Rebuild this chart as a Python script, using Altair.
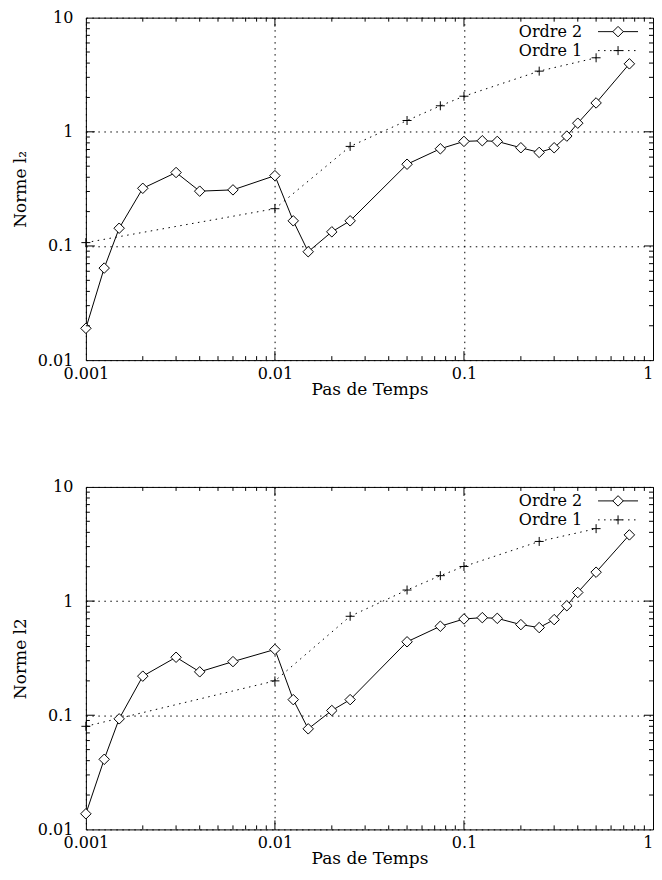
import altair as alt
import pandas as pd

# ---- data ----
steps_o2 = [0.001, 0.00125, 0.0015, 0.002, 0.003, 0.004, 0.006, 0.01, 0.0125, 0.015,
            0.02, 0.025, 0.05, 0.075, 0.1, 0.125, 0.15, 0.2, 0.25, 0.3, 0.35, 0.4, 0.5, 0.75]
top_o2 = [0.019, 0.064, 0.143, 0.32, 0.44, 0.302, 0.31, 0.413, 0.166, 0.089,
          0.133, 0.166, 0.52, 0.71, 0.824, 0.835, 0.824, 0.725, 0.66, 0.725, 0.917, 1.19, 1.79, 3.94]
bot_o2 = [0.0137, 0.0411, 0.093, 0.22, 0.322, 0.24, 0.295, 0.377, 0.137, 0.076,
          0.11, 0.137, 0.44, 0.602, 0.697, 0.716, 0.706, 0.622, 0.586, 0.688, 0.91, 1.19, 1.79, 3.80]

steps_o1 = [0.001, 0.01, 0.025, 0.05, 0.075, 0.1, 0.25, 0.5]
top_o1 = [0.107, 0.212, 0.745, 1.256, 1.69, 2.05, 3.40, 4.45]
bot_o1 = [0.08, 0.2, 0.736, 1.25, 1.67, 2.01, 3.33, 4.31]

series_names = ["Ordre 2", "Ordre 1"]
x_title = "Pas de Temps"
y_titles = ["Norme l\u2082", "Norme l2"]

x_domain = [0.001, 1]
y_domain = [0.01, 10]
x_labels = [0.001, 0.01, 0.1, 1]
y_labels = [0.01, 0.1, 1, 10]
x_major = [0.01, 0.1]
y_major = [0.1, 1]
x_minor = [m * d for d in [0.001, 0.01, 0.1] for m in range(2, 10)]
y_minor = [m * d for d in [0.01, 0.1, 1] for m in range(2, 10)]

W, H = 568, 343
FONT = "DejaVu Serif, Liberation Serif, serif"

xscale = alt.Scale(type="log", domain=x_domain, nice=False)
yscale = alt.Scale(type="log", domain=y_domain, nice=False)

common_axis = dict(format="~g", grid=True, gridColor="black", gridDash=[1.5, 4.5],
                   gridWidth=1, gridOpacity=1, ticks=False, domain=False,
                   labelOverlap=False, labelFlush=False,
                   labelFont=FONT, labelFontSize=16, labelColor="black",
                   titleFont=FONT, titleFontSize=17, titleFontWeight="normal",
                   titleColor="black")


def panel(o2_vals, o1_vals, ytitle):
    d2 = pd.DataFrame({"step": steps_o2, "norm": o2_vals})
    d1 = pd.DataFrame({"step": steps_o1, "norm": o1_vals})

    xax = alt.Axis(values=x_labels, labelPadding=5, title=x_title, titlePadding=0,
                   labelAlign={"condition": {"test": "datum.value >= 1", "value": "right"},
                               "value": "center"},
                   **common_axis)
    yax = alt.Axis(values=y_labels, labelPadding=13, title=ytitle, titlePadding=8,
                   **common_axis)

    X = lambda f: alt.X(f, scale=xscale, axis=xax)
    Y = lambda f: alt.Y(f, scale=yscale, axis=yax)

    line2 = alt.Chart(d2).mark_line(color="black", strokeWidth=1).encode(
        x=X("step:Q"), y=Y("norm:Q"))
    pts2 = alt.Chart(d2).mark_point(shape="diamond", filled=True, fill="white",
                                    stroke="black", strokeWidth=1, size=110,
                                    opacity=1).encode(x=X("step:Q"), y=Y("norm:Q"))
    line1 = alt.Chart(d1).mark_line(color="black", strokeWidth=1,
                                    strokeDash=[1.5, 4.5]).encode(
        x=X("step:Q"), y=Y("norm:Q"))
    pts1 = alt.Chart(d1).mark_point(shape="M-1,0L1,0M0,-1L0,1", filled=False,
                                    color="black", strokeWidth=1, size=81,
                                    opacity=1).encode(x=X("step:Q"), y=Y("norm:Q"))

    # inward ticks on all four sides
    ticks = []
    for vals, L in [(x_major, 9), (x_minor, 4)]:
        df = pd.DataFrame({"step": vals})
        for y0, y1 in [(H, H - L), (0, L)]:
            ticks.append(alt.Chart(df).mark_rule(color="black", strokeWidth=1).encode(
                x=X("step:Q"), y=alt.value(y0), y2=alt.value(y1)))
    for vals, L in [(y_major, 9), (y_minor, 4)]:
        df = pd.DataFrame({"norm": vals})
        for x0, x1 in [(0, L), (W, W - L)]:
            ticks.append(alt.Chart(df).mark_rule(color="black", strokeWidth=1).encode(
                y=Y("norm:Q"), x=alt.value(x0), x2=alt.value(x1)))

    # legend (top right, gnuplot style: label then sample)
    leg = []
    lx = W - 71
    for i, name in enumerate(series_names):
        ly = 14 + i * 19
        ldf = pd.DataFrame({"label": [name]})
        leg.append(alt.Chart(ldf).mark_text(align="right", baseline="middle", font=FONT,
                                            fontSize=16, color="black").encode(
            x=alt.value(lx), y=alt.value(ly), text="label:N"))
        rule = alt.Chart(ldf).mark_rule(color="black", strokeWidth=1,
                                        strokeDash=[1, 0] if i == 0 else [1.5, 4.5])
        leg.append(rule.encode(x=alt.value(lx + 16), x2=alt.value(lx + 56), y=alt.value(ly)))
        if i == 0:
            leg.append(alt.Chart(ldf).mark_point(shape="diamond", filled=True, fill="white",
                                                 stroke="black", strokeWidth=1, size=110,
                                                 opacity=1).encode(
                x=alt.value(lx + 36), y=alt.value(ly)))
        else:
            leg.append(alt.Chart(ldf).mark_point(shape="M-1,0L1,0M0,-1L0,1", filled=False,
                                                 color="black", strokeWidth=1, size=81,
                                                 opacity=1).encode(
                x=alt.value(lx + 36), y=alt.value(ly)))

    return alt.layer(line2, line1, pts2, pts1, *ticks, *leg).properties(width=W, height=H)


top = panel(top_o2, top_o1, y_titles[0])
bottom = panel(bot_o2, bot_o1, y_titles[1])

chart = alt.vconcat(top, bottom, spacing=80).properties(
    padding={"left": 2, "top": 0, "right": 0, "bottom": 0},
    background="white",
).configure_view(stroke="black", strokeWidth=1).configure_axis(
    labelFont=FONT, titleFont=FONT)

chart.save("out.html", embed_options={"renderer": "svg", "actions": False})
